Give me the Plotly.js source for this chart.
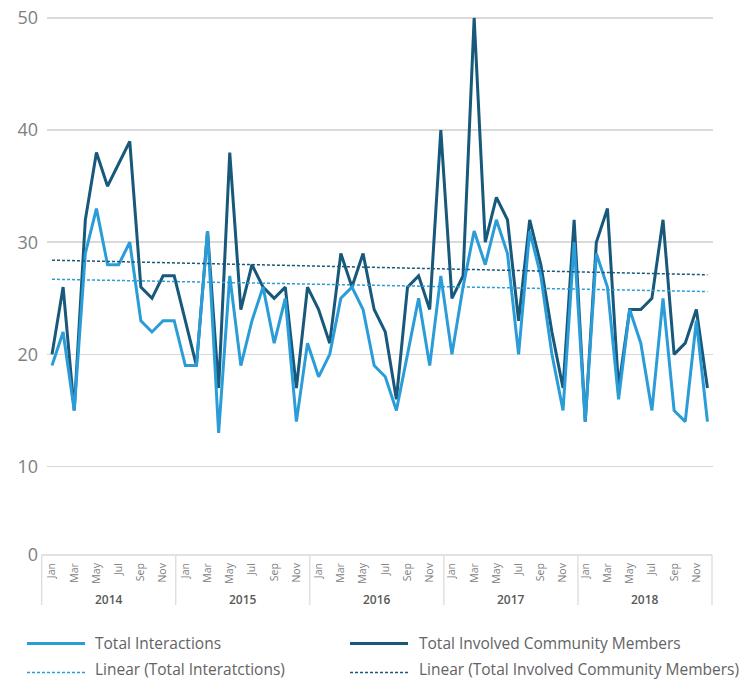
<!DOCTYPE html>
<html><head><meta charset="utf-8">
<script src="https://cdn.plot.ly/plotly-3.0.1.min.js"></script>
<style>html,body{margin:0;padding:0;background:#fff}#chart{width:746px;height:681px}</style>
</head><body><div id="chart"></div>
<script>
// ---- data ----
const years = ['2014','2015','2016','2017','2018'];
const months = ['Jan','Feb','Mar','Apr','May','Jun','Jul','Aug','Sep','Oct','Nov','Dec'];
const totalInteractions = [
  19,22,15,29,33,28,28,30,23,22,23,23,
  19,19,31,13,27,19,23,26,21,25,14,21,
  18,20,25,26,24,19,18,15,20,25,19,27,
  20,26,31,28,32,29,20,31,27,20,15,30,
  14,29,26,16,24,21,15,25,15,14,23,14
];
const totalMembers = [
  20,26,15,32,38,35,37,39,26,25,27,27,
  23,19,31,17,38,24,28,26,25,26,17,26,
  24,21,29,26,29,24,22,16,26,27,24,40,
  25,27,50,30,34,32,23,32,28,22,17,32,
  14,30,33,17,24,24,25,32,20,21,24,17
];
// linear trendline end values as drawn in the reference (start, end)
const trendInteractions = [26.7, 25.6];
const trendMembers = [28.4, 27.1];
const yTickVals = [10,20,30,40,50];
const yTickText = ['10','20','30','40','50'];
const seriesNames = ['Total Interactions','Total Involved Community Members',
                     'Linear (Total Interatctions)','Linear (Total Involved Community Members)'];

// ---- build ----
const LIGHT = '#2a9dd8', DARK = '#17587b';
const W = 746, H = 681, ML = 47, MR = 33, MT = 0, MB = 126;
const PW = W - ML - MR, PH = H - MT - MB;
const yBottom = 2.11;
const px2x = p => (p - ML) / PW;
const py2y = p => (MT + PH - p) / PH;

const n = totalInteractions.length;
const idx = totalInteractions.map((_, i) => i);
const tickVals = [], tickText = [];
idx.forEach(i => { if (i % 2 === 0) { tickVals.push(i); tickText.push(months[i % 12]); } });

const traces = [
  {x: idx, y: totalMembers, type: 'scatter', mode: 'lines', name: seriesNames[1],
   line: {color: DARK, width: 3}},
  {x: idx, y: totalInteractions, type: 'scatter', mode: 'lines', name: seriesNames[0],
   line: {color: LIGHT, width: 3}},
  {x: [0, n - 1], y: trendInteractions, type: 'scatter', mode: 'lines', name: seriesNames[2],
   line: {color: LIGHT, width: 1.5, dash: '3px,2px'}},
  {x: [0, n - 1], y: trendMembers, type: 'scatter', mode: 'lines', name: seriesNames[3],
   line: {color: DARK, width: 1.5, dash: '3px,2px'}}
];

const shapes = [];
const annotations = [];
const GRID = '#d9d9d9';
// category axis box
const boxL = 41.7, boxR = 712, yearW = (boxR - boxL) / years.length;
shapes.push({type: 'line', xref: 'paper', yref: 'paper', x0: px2x(boxL), x1: px2x(boxR),
  y0: py2y(555), y1: py2y(555), line: {color: GRID, width: 1.5}});
for (let k = 0; k <= years.length; k++) {
  const p = boxL + k * yearW;
  shapes.push({type: 'line', xref: 'paper', yref: 'paper', x0: px2x(p), x1: px2x(p),
    y0: py2y(555), y1: py2y(605), line: {color: GRID, width: 1.2}});
}
years.forEach((yr, k) => {
  annotations.push({xref: 'paper', yref: 'paper', x: px2x(boxL + (k + 0.5) * yearW), y: py2y(599),
    text: yr, showarrow: false, xanchor: 'center', yanchor: 'middle',
    font: {family: 'Open Sans', size: 12, color: '#595959', weight: 600}});
});
// legend (drawn)
const legendItems = [
  {name: seriesNames[0], color: LIGHT, width: 3, dash: 'solid', sx: 27, tx: 95, y: 643, ty: 643},
  {name: seriesNames[1], color: DARK, width: 3, dash: 'solid', sx: 350, tx: 419, y: 643, ty: 643},
  {name: seriesNames[2], color: LIGHT, width: 1.5, dash: '3px,2px', sx: 27, tx: 95, y: 672, ty: 669.5},
  {name: seriesNames[3], color: DARK, width: 1.5, dash: '3px,2px', sx: 350, tx: 419, y: 672, ty: 669.5}
];
legendItems.forEach(it => {
  shapes.push({type: 'line', xref: 'paper', yref: 'paper', x0: px2x(it.sx), x1: px2x(it.sx + 58),
    y0: py2y(it.y + 0.5), y1: py2y(it.y + 0.5), line: {color: it.color, width: it.width, dash: it.dash}});
  annotations.push({xref: 'paper', yref: 'paper', x: px2x(it.tx - 1), y: py2y(it.ty),
    text: it.name, showarrow: false, xanchor: 'left', yanchor: 'middle', borderpad: 0,
    font: {family: 'Open Sans', size: 15.5, color: '#636363'}});
});

const layout = {
  width: W, height: H,
  margin: {l: ML, r: MR, t: MT, b: MB, pad: 0},
  paper_bgcolor: '#fff', plot_bgcolor: '#fff',
  showlegend: false,
  xaxis: {
    type: 'linear', range: [-0.45, 59.5], tickmode: 'array', tickvals: tickVals, ticktext: tickText,
    tickangle: -90, ticks: '', showgrid: false, zeroline: false, showline: false,
    ticklabelstandoff: 5,
    tickfont: {family: 'Open Sans', size: 10.5, color: '#808080'}, fixedrange: true
  },
  yaxis: {
    range: [yBottom, 51.6], tickmode: 'array', tickvals: [yBottom].concat(yTickVals),
    ticktext: ['0'].concat(yTickText), showgrid: true, gridcolor: GRID, gridwidth: 1.5,
    zeroline: false, showline: false, ticks: '', ticklabelstandoff: 8,
    tickfont: {family: 'Open Sans', size: 18, color: '#7f7f7f'}, fixedrange: true
  },
  shapes: shapes,
  annotations: annotations
};
Plotly.newPlot('chart', traces, layout, {displayModeBar: false, staticPlot: true});
</script></body></html>
